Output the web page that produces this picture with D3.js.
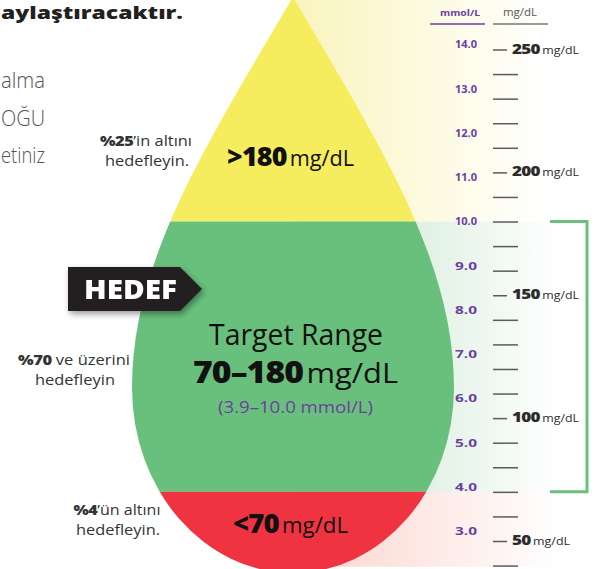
<!DOCTYPE html>
<html>
<head>
<meta charset="utf-8">
<script src="https://cdn.jsdelivr.net/npm/d3@7"></script>
<style>
html, body { margin: 0; padding: 0; background: #fff; }
svg { display: block; }
</style>
</head>
<body>
<div id="chart"></div>
<script>
// Glucose ranges in mg/dL (top to bottom of the drop)
const rangeNames = ["high", "target", "low"];
const rangeLimits = [[180, 280], [70, 180], [30, 70]];
const rangeBold = [">180", "70–180", "<70"];

// Time-in-range goals shown on the left
const goalBold = ["%25", "%70", "%4"];
const goalRest = ["’in altını", " ve üzerini", "’ün altını"];
const goalLine2 = ["hedefleyin.", "hedefleyin", "hedefleyin."];

// Axis ticks
const mgTicks = [40, 50, 60, 70, 80, 90, 100, 110, 120, 130, 140, 150, 160, 170, 180, 190, 200, 210, 220, 230, 240, 250];
const mgMajor = [50, 100, 150, 200, 250];
const mmolTicks = [3, 4, 5, 6, 7, 8, 9, 10, 11, 12, 13, 14];

// Text fragments cut off at the left edge of the page
const introLines = ["alma", "OĞU", "etiniz"];

const width = 605, height = 569;
const fontFamily = "'Open Sans', Lato, sans-serif";
const purple = "#6b3fa0";
const fill = { high: "#f5ed5e", target: "#69c07c", low: "#ef3341" };
const pale = { high: "#faf4bd", target: "#c4e4cb", low: "#fbd3cb" };

const svg = d3.select("#chart").append("svg")
    .attr("width", width)
    .attr("height", height)
    .style("font-family", fontFamily);

const defs = svg.append("defs");

// stretch a text to the width it has in the original artwork
function fit(sel, w) {
    return sel.attr("textLength", w).attr("lengthAdjust", "spacingAndGlyphs");
}

// mg/dL scale, mmol/L scale shares the same pixels (1 mmol/L = 18 mg/dL)
const y = d3.scaleLinear().domain([50, 250]).range([541, 49.5]);
const yMmol = d3.scaleLinear().domain([50 / 18, 250 / 18]).range(y.range());

// pale background bands to the right of the drop
rangeNames.forEach((name, i) => {
    const grad = defs.append("linearGradient")
        .attr("id", "bg-" + name)
        .attr("gradientUnits", "userSpaceOnUse")
        .attr("x1", 293).attr("x2", name === "high" ? 545 : 560)
        .attr("y1", 0).attr("y2", 0);
    grad.append("stop").attr("offset", 0).attr("stop-color", pale[name]);
    grad.append("stop").attr("offset", 1).attr("stop-color", "#fff");
});

svg.append("g").selectAll("rect")
    .data(rangeNames)
    .join("rect")
    .attr("x", 293)
    .attr("width", width - 293)
    .attr("y", (d, i) => y(rangeLimits[i][1]))
    .attr("height", (d, i) => y(Math.max(rangeLimits[i][0], 39.5)) - y(rangeLimits[i][1]))
    .attr("fill", d => `url(#bg-${d})`);

// the drop
const dropCx = 293, dropTop = -3, dropMidY = 388, dropRx = 161, dropRy = 185;
const dropPath = `M${dropCx},${dropTop}` +
    ` C${dropCx + 90},150 ${dropCx + dropRx},262 ${dropCx + dropRx},${dropMidY}` +
    ` A${dropRx},${dropRy} 0 0 1 ${dropCx - dropRx},${dropMidY}` +
    ` C${dropCx - dropRx},262 ${dropCx - 90},150 ${dropCx},${dropTop} Z`;

defs.append("clipPath").attr("id", "drop")
    .append("path").attr("d", dropPath);

svg.append("g").attr("clip-path", "url(#drop)")
    .selectAll("rect")
    .data(rangeNames)
    .join("rect")
    .attr("x", dropCx - dropRx - 5)
    .attr("width", dropRx * 2 + 10)
    .attr("y", (d, i) => y(rangeLimits[i][1]))
    .attr("height", (d, i) => y(rangeLimits[i][0]) - y(rangeLimits[i][1]))
    .attr("fill", d => fill[d]);

// labels inside the drop
function rangeLabel(i, x, yy, sizeBold, sizeUnit, w) {
    const t = svg.append("text")
        .attr("x", x).attr("y", yy)
        .attr("text-anchor", "middle")
        .attr("fill", "#111");
    t.append("tspan").attr("font-weight", 800).attr("font-size", sizeBold).attr("letter-spacing", -0.8).text(rangeBold[i]);
    t.append("tspan").attr("dx", 3).attr("font-size", sizeUnit).text("mg/dL");
    fit(t, w);
}
rangeLabel(0, 290.5, 166, 26, 21, 127);
fit(svg.append("text")
    .attr("x", 296).attr("y", 345)
    .attr("text-anchor", "middle")
    .attr("font-size", 28.5)
    .attr("fill", "#111")
    .text("Target Range"), 174);
rangeLabel(1, 295.5, 383, 29.5, 27, 205);
fit(svg.append("text")
    .attr("x", 295.5).attr("y", 413)
    .attr("text-anchor", "middle")
    .attr("font-size", 17)
    .attr("fill", purple)
    .text("(3.9–10.0 mmol/L)"), 155);
rangeLabel(2, 290.5, 533, 26, 21, 115);

// HEDEF tag
const tag = svg.append("g").style("filter", "drop-shadow(2px 3px 3px rgba(0,0,0,0.4))");
tag.append("polygon")
    .attr("points", "68,267 180,267 202,289 180,311 68,311")
    .attr("fill", "#231f20");
fit(tag.append("text")
    .attr("x", 84).attr("y", 299)
    .attr("font-size", 27)
    .attr("font-weight", 800)
    .attr("fill", "#fff")
    .text("HEDEF"), 93);

// goals on the left
const goalX = [146, 74, 117];
const goalY = [146, 365, 515];
const goalW1 = [92, 112, 87];
const goalW2 = [84, 80, 84];
goalBold.forEach((b, i) => {
    const t = svg.append("text")
        .attr("x", goalX[i]).attr("y", goalY[i])
        .attr("text-anchor", "middle")
        .attr("font-size", 14)
        .attr("fill", "#333");
    t.append("tspan").attr("font-weight", 800).attr("letter-spacing", -0.4).text(b);
    t.append("tspan").text(goalRest[i]);
    fit(t, goalW1[i]);
    fit(svg.append("text")
        .attr("x", goalX[i] + 1).attr("y", goalY[i] + 19.5)
        .attr("text-anchor", "middle")
        .attr("font-size", 14)
        .attr("fill", "#333")
        .text(goalLine2[i]), goalW2[i]);
});

// cut-off paragraph on the top left
fit(svg.append("text")
    .attr("x", 1).attr("y", 19)
    .attr("font-size", 18)
    .attr("font-weight", 800)
    .attr("fill", "#231f20")
    .text("aylaştıracaktır."), 182);
svg.selectAll(".intro")
    .data(introLines)
    .join("text")
    .attr("class", "intro")
    .attr("x", 1)
    .attr("y", (d, i) => 88 + i * 37.5)
    .attr("font-size", 22)
    .attr("font-weight", 300)
    .attr("textLength", 44)
    .attr("lengthAdjust", "spacingAndGlyphs")
    .attr("fill", "#555")
    .text(d => d);

// mg/dL axis: minor ticks
svg.append("g")
    .attr("transform", "translate(493,0)")
    .call(d3.axisRight(y).tickValues(mgTicks.filter(v => !mgMajor.includes(v))).tickSize(25).tickFormat(""))
    .call(g => g.select(".domain").remove())
    .call(g => g.selectAll("line").attr("stroke", "#5b5b5b").attr("stroke-width", 1.5));

// mg/dL axis: labelled ticks
const major = svg.append("g")
    .attr("transform", "translate(493,0)")
    .call(d3.axisRight(y).tickValues(mgMajor).tickSize(14).tickPadding(5))
    .call(g => g.select(".domain").remove())
    .call(g => g.selectAll("line").attr("stroke", "#5b5b5b").attr("stroke-width", 1.5));
major.selectAll(".tick text")
    .attr("font-family", fontFamily)
    .attr("fill", "#2b2b2b")
    .attr("dy", "0.36em")
    .each(function(d) {
        const t = d3.select(this).text(null);
        t.append("tspan").attr("font-size", 14.5).attr("font-weight", 800).attr("letter-spacing", -0.6).text(d);
        t.append("tspan").attr("dx", 2).attr("font-size", 10.5).text("mg/dL");
        fit(t, d < 100 ? 58 : 67);
    });

// mmol/L axis
svg.append("g")
    .attr("transform", "translate(480,0)")
    .call(d3.axisLeft(yMmol).tickValues(mmolTicks).tickSize(0).tickPadding(3).tickFormat(d3.format(".1f")))
    .call(g => g.select(".domain").remove())
    .call(g => g.selectAll("text")
        .attr("font-family", fontFamily)
        .attr("font-size", 10.5)
        .attr("font-weight", 700)
        .attr("fill", purple)
        .attr("textLength", 22)
        .attr("lengthAdjust", "spacingAndGlyphs"));

// column headers
fit(svg.append("text").attr("x", 460).attr("y", 16).attr("text-anchor", "middle")
    .attr("font-size", 9.5).attr("font-weight", 700).attr("fill", purple).text("mmol/L"), 40);
svg.append("line").attr("x1", 430).attr("x2", 485).attr("y1", 24).attr("y2", 24)
    .attr("stroke", purple).attr("stroke-width", 1.5);
fit(svg.append("text").attr("x", 520).attr("y", 16).attr("text-anchor", "middle")
    .attr("font-size", 10).attr("fill", "#555").text("mg/dL"), 34);
svg.append("line").attr("x1", 493).attr("x2", 548).attr("y1", 24).attr("y2", 24)
    .attr("stroke", "#777").attr("stroke-width", 1.5);

// target range bracket
svg.append("path")
    .attr("d", `M550,${y(180)} H587 V${y(70)} H550`)
    .attr("fill", "none")
    .attr("stroke", fill.target)
    .attr("stroke-width", 3);
</script>
</body>
</html>
